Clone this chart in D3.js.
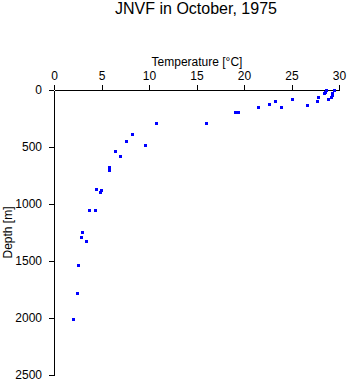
<!DOCTYPE html>
<html>
<head>
<meta charset="utf-8">
<script src="https://cdn.jsdelivr.net/npm/d3@7"></script>
<style>
  html, body { margin: 0; padding: 0; background: #fff; }
  svg { display: block; font-family: "Liberation Sans", Arial, Helvetica, sans-serif; }
</style>
</head>
<body>
<svg id="chart" width="348" height="384"></svg>
<script>
// Temperature profile samples (°C) and their depths (m)
const temperature = [
  10.7, 8.2, 7.6, 9.6, 6.45, 6.9, 5.8, 5.8,
  16.0, 19.0, 19.4, 21.5, 22.6, 23.3, 23.9,
  25.1, 26.6, 27.7, 27.8, 28.4, 28.5, 28.6, 28.8, 29.2, 29.3, 29.3, 29.5,
  4.45, 4.97, 4.87, 3.65, 4.35, 2.98, 2.87, 3.4, 2.56, 2.45, 2.03
];
const depth = [
  290, 386, 447, 485, 535, 582, 675, 705,
  290, 196, 196, 152, 126, 99, 152,
  80, 130, 100, 58, 30, 15, 3, 76, 60, 40, 22, 3,
  866, 880, 895, 1055, 1055, 1246, 1292, 1322, 1535, 1784, 2009
];
const tempTicks = [0, 5, 10, 15, 20, 25, 30];
const depthTicks = [0, 500, 1000, 1500, 2000, 2500];

const svg = d3.select("#chart");
const plotLeft = 54, plotRight = 339, plotTop = 90, plotBottom = 375;

const x = d3.scaleLinear().domain([0, 30]).range([plotLeft, plotRight]);
const y = d3.scaleLinear().domain([0, 2500]).range([plotTop, plotBottom]);

// Title
svg.append("text")
  .attr("x", 196).attr("y", 14)
  .attr("text-anchor", "middle")
  .attr("font-size", 16)
  .text("JNVF in October, 1975");

// Temperature axis along the top
const xAxis = svg.append("g")
  .attr("transform", `translate(0,${plotTop})`)
  .call(d3.axisTop(x).tickValues(tempTicks).tickFormat(d3.format("d"))
    .tickSize(5).tickSizeOuter(0).tickPadding(5));

// Depth axis on the left, increasing downward
const yAxis = svg.append("g")
  .attr("transform", `translate(${plotLeft},0)`)
  .call(d3.axisLeft(y).tickValues(depthTicks).tickFormat(d3.format("d"))
    .tickSize(5).tickSizeOuter(0).tickPadding(7));

[xAxis, yAxis].forEach(g => {
  g.selectAll("path.domain").attr("stroke", "#000").attr("stroke-width", 1)
    .attr("shape-rendering", "crispEdges");
  g.selectAll(".tick line").attr("stroke", "#000").attr("stroke-width", 1)
    .attr("shape-rendering", "crispEdges");
  g.selectAll(".tick text").attr("fill", "#000").attr("font-size", 12)
    .attr("font-family", "Liberation Sans, Arial, sans-serif");
});

// Axis titles
svg.append("text")
  .attr("x", 197).attr("y", 66)
  .attr("text-anchor", "middle")
  .attr("font-size", 12)
  .text("Temperature [°C]");

svg.append("text")
  .attr("transform", `translate(12,${(plotTop + plotBottom) / 2}) rotate(-90)`)
  .attr("text-anchor", "middle")
  .attr("font-size", 12)
  .text("Depth [m]");

// Sample markers
svg.append("g")
  .attr("shape-rendering", "crispEdges")
  .selectAll("rect")
  .data(d3.range(temperature.length))
  .join("rect")
  .attr("x", i => Math.round(x(temperature[i])) - 1)
  .attr("y", i => Math.round(y(depth[i])) - 1)
  .attr("width", 3)
  .attr("height", 3)
  .attr("fill", "#0000ff");
</script>
</body>
</html>
